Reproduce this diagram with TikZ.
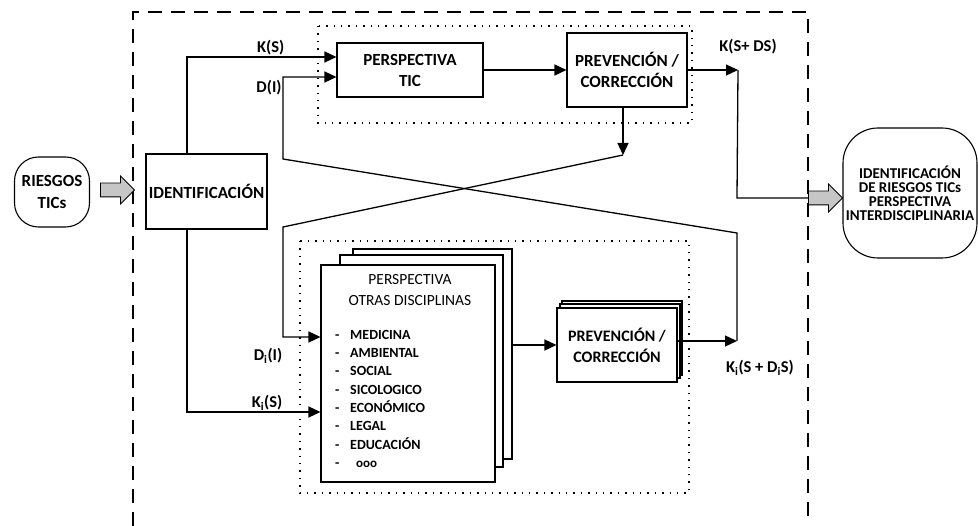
\documentclass[tikz,border=0pt]{standalone}
\usepackage{fontspec}
\setmainfont{Carlito}
\usetikzlibrary{arrows.meta,shapes.arrows,positioning}

\newcommand{\guion}{\makebox[15pt][l]{-}}

\begin{document}
\begin{tikzpicture}[x=1pt, y=-1pt,
  caja/.style={draw, line width=1.1pt, fill=white, align=center, inner sep=0pt, font=\bfseries\fontsize{17}{21}\selectfont},
  hoja/.style={draw, line width=1.1pt, fill=white, inner sep=0pt},
  redondo/.style={draw, line width=1.1pt, align=center, inner sep=0pt},
  flecha/.style={line width=1.3pt, -{Triangle[length=12pt,width=11pt]}},
  linea/.style={line width=1.3pt},
  etiqueta/.style={font=\bfseries\fontsize{16.5}{18}\selectfont, inner sep=1pt},
  bloque/.style={single arrow, draw, line width=0.8pt, fill=gray!45, minimum height=34pt, inner sep=6.5pt, single arrow head extend=7pt},
  punteado/.style={line width=1.4pt, dash pattern=on 1.4pt off 6pt},
  discontinuo/.style={line width=1.5pt, dash pattern=on 14pt off 9pt}]

\useasboundingbox (0,0) rectangle (978,526);

% marcos
\draw[discontinuo] (133,526) -- (133,12) -- (808,12) -- (808,520);
\draw[punteado] (318,26) rectangle (692,123);
\draw[punteado] (300,241) rectangle (689,493);

% entrada
\node[redondo, rounded corners=24pt, minimum width=75pt, minimum height=70pt, font=\bfseries\fontsize{17}{22}\selectfont] (riesgos) at (52,192) {RIESGOS\\TICs};
\node[bloque] (entrada) at (114,190) {};
\node[caja, minimum width=121pt, minimum height=75pt] (ident) at (206.5,191.5) {IDENTIFICACIÓN};

% perspectiva TIC
\node[caja, minimum width=146pt, minimum height=54pt] (tic) at (410,70) {PERSPECTIVA\\TIC};
\node[caja, minimum width=120pt, minimum height=74pt] (prev1) at (627,70) {PREVENCIÓN /\\CORRECCIÓN};

% otras disciplinas
\node[hoja, minimum width=159pt, minimum height=210pt] (otras3) at (432.5,354) {};
\node[hoja, minimum width=163pt, minimum height=212pt] (otras2) at (421.5,361) {};
\node[hoja, minimum width=174pt, minimum height=217pt] (otras) at (408,373.5) {};
\node[font=\fontsize{15.5}{21}\selectfont, align=center, anchor=north] (titulo) at (410,271) {PERSPECTIVA\\OTRAS DISCIPLINAS};
\node[font=\bfseries\fontsize{14}{18.3}\selectfont, align=left, anchor=north west, inner sep=0pt] (lista) at (335,330)
  {\guion MEDICINA\\\guion AMBIENTAL\\\guion SOCIAL\\\guion SICOLOGICO\\\guion ECONÓMICO\\\guion LEGAL\\\guion EDUCACIÓN\\\guion\hspace{6pt}{\fontsize{13}{14}\selectfont ooo}};

\node[caja, minimum width=120pt, minimum height=74pt] (prev2c) at (622,338) {};
\node[caja, minimum width=120pt, minimum height=74pt] (prev2b) at (620,341) {};
\node[caja, minimum width=120pt, minimum height=74pt, font=\bfseries\fontsize{16}{21}\selectfont] (prev2) at (617,345) {PREVENCIÓN /\\CORRECCIÓN};

% salida
\node[redondo, rounded corners=35pt, minimum width=134pt, minimum height=130pt, font=\bfseries\fontsize{15}{14}\selectfont] (salida) at (910,193) {IDENTIFICACIÓN\\DE RIESGOS TICs\\PERSPECTIVA\\INTERDISCIPLINARIA};
\node[bloque] (salidaflecha) at (822,198) {};

\coordinate (j1) at (737,341);
\coordinate (j2) at (623,155);
\coordinate (j3) at (738,70);
\coordinate (c1) at (737,233);
\coordinate (c2) at (283,159);
\coordinate (c3) at (283,227);
\coordinate (c4) at (737,198);

% conexiones
\draw[flecha] ([xshift=-19.5pt]ident.north) |- ([yshift=13pt]tic.west) node[etiqueta, pos=0.78, above] {K(S)};
\draw[flecha] ([xshift=-19.5pt]ident.south) |- ([yshift=-38.5pt]otras.west) node[etiqueta, pos=0.8, above] {K\textsubscript{i}(S)};
\draw[flecha] (j1) -- (c1) -- (c2) |- ([yshift=-7pt]tic.west);
\draw[flecha] (tic) -- (prev1);
\draw[flecha] (prev1.east) -- (j3);
\draw[linea] (j3) -- (c4) -- (salidaflecha.west);
\draw[flecha] ([xshift=-4pt]prev1.south) -- (j2);
\draw[flecha] (j2) -- (c3) |- ([yshift=36.5pt]otras.west);
\draw[flecha] (otras3.east |- prev2.west) -- (prev2.west);
\draw[flecha] (prev2.east |- j1) -- (j1);

% etiquetas
\node[etiqueta] (lblD) at (269,88) {D(I)};
\node[etiqueta] (lblKSD) at (748,47) {K(S+ DS)};
\node[etiqueta] (lblDi) at (268,356) {D\textsubscript{i}(I)};
\node[etiqueta] (lblKiSD) at (760,368) {K\textsubscript{i}(S + D\textsubscript{i}S)};
\end{tikzpicture}
\end{document}
